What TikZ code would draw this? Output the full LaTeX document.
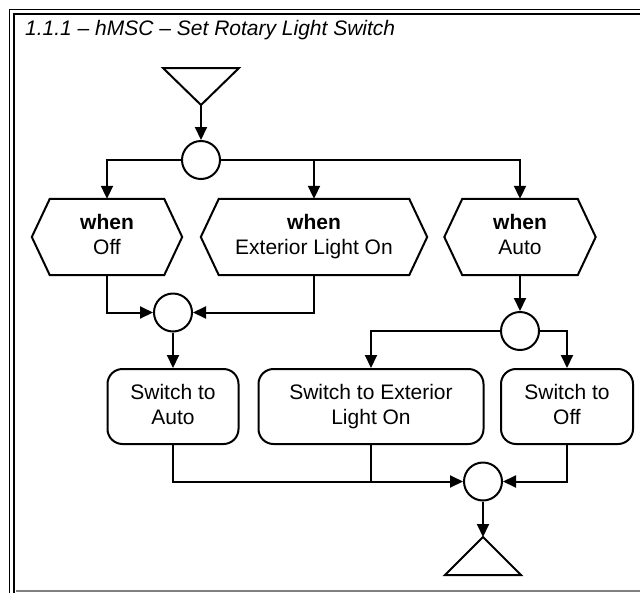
\documentclass[tikz,border=0pt]{standalone}
\usepackage{fontspec}
\setmainfont{Liberation Sans}
\usetikzlibrary{arrows.meta,calc}
\newcommand\mystr{\rule[-5pt]{0pt}{20pt}}
\tikzset{
  ln/.style={line width=2pt, line join=miter},
  arr/.style={ln, -{Triangle[length=13pt,width=12pt]}},
  txt/.style={font=\fontsize{21}{25}\selectfont, align=center, inner sep=0pt},
  hexn/.style={txt, minimum height=76pt},
  junc/.style={circle, draw, ln, minimum size=38pt, inner sep=0pt},
  actbox/.style={txt, draw, ln, rounded corners=15pt, minimum height=75pt},
}
\begin{document}
\begin{tikzpicture}[x=1pt,y=-1pt]
\useasboundingbox (0,0) rectangle (640,592);
\fill[white] (0,0) rectangle (640,592);
\begin{scope}
\clip (0,0) rectangle (640,592);
\draw[line width=1.2pt] (9.5,9.5) rectangle (700,700);
\draw[line width=2.6pt] (14,14) rectangle (700,700);
\draw[gray, line width=2pt] (15.5,591) -- (640,591);
\end{scope}
\node[anchor=base west, inner sep=0pt, font=\itshape\fontsize{21}{25}\selectfont] (title) at (25,35) {1.1.1 – hMSC – Set Rotary Light Switch};

% start triangle
\draw[ln] (163,68) -- (239,68) -- (201,105) -- cycle;
\coordinate (start) at (201,105);

\node[junc] (c1) at (201,160) {};
\node[hexn, minimum width=150pt] (w1) at (107,237) {\textbf{when}\mystr\\Off\mystr};
\node[hexn, minimum width=226pt] (w2) at (314,237) {\textbf{when}\mystr\\Exterior Light On\mystr};
\node[hexn, minimum width=151pt] (w3) at (520,237) {\textbf{when}\mystr\\Auto\mystr};
\foreach \n in {w1,w2,w3}
  \draw[ln] ([xshift=18pt]\n.north west) -- ([xshift=-18pt]\n.north east) -- (\n.east)
    -- ([xshift=-18pt]\n.south east) -- ([xshift=18pt]\n.south west) -- (\n.west) -- cycle;

\node[junc] (c2) at (173,312.5) {};
\node[junc] (c3) at (520,331) {};

\node[actbox, minimum width=131pt] (b1) at (173,406.5) {Switch to\mystr\\Auto\mystr};
\node[actbox, minimum width=225pt] (b2) at (371,406.5) {Switch to Exterior\mystr\\Light On\mystr};
\node[actbox, minimum width=132pt] (b3) at (567,406.5) {Switch to\mystr\\Off\mystr};

\node[junc] (c4) at (483,481.5) {};
\coordinate (stop) at (483,537);
\draw[ln] (stop) -- (445,575) -- (521,575) -- cycle;

\draw[arr] (start) -- (c1.north);
\draw[arr] (c1.west) -| (w1.north);
\draw[arr] (c1.east) -| (w2.north);
\draw[arr] (c1.east) -| (w3.north);
\draw[arr] (w1.south) |- (c2.west);
\draw[arr] (w2.south) |- (c2.east);
\draw[arr] (c2.south) -- (b1.north);
\draw[arr] (w3.south) -- (c3.north);
\draw[arr] (c3.west) -| (b2.north);
\draw[arr] (c3.east) -| (b3.north);
\draw[arr] (b1.south) |- (c4.west);
\draw[ln] (b2.south) -- (b2.south |- c4.west);
\draw[arr] (b3.south) |- (c4.east);
\draw[arr] (c4.south) -- (stop);
\end{tikzpicture}
\end{document}
